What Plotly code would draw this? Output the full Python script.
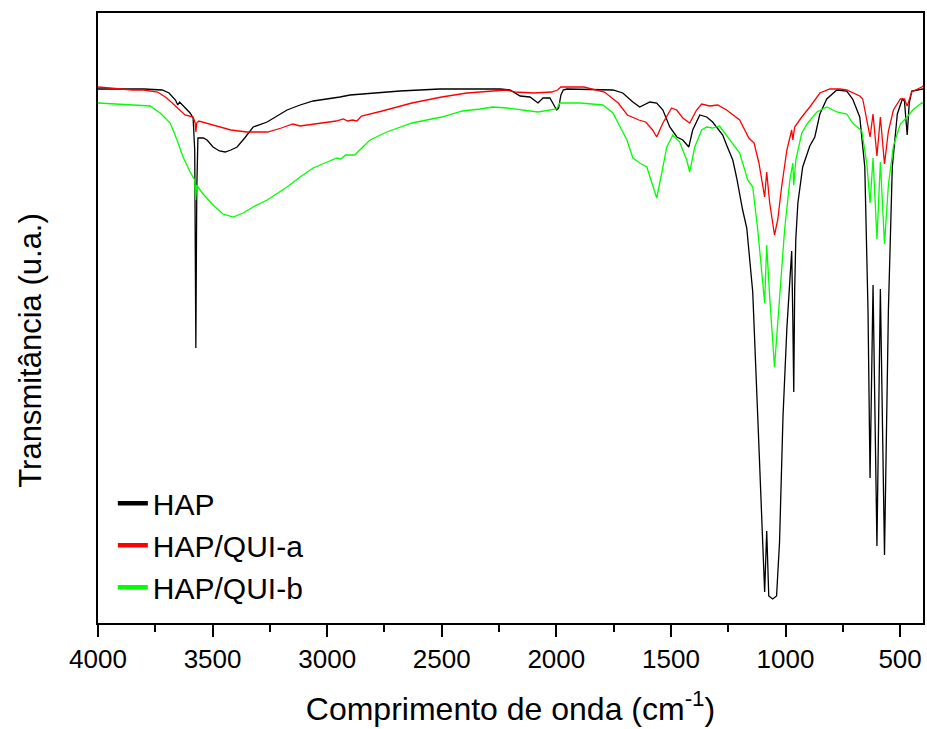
import plotly.graph_objects as go

# Wavenumbers (cm^-1) and transmittance (arbitrary units)
hap_wn = [4000, 3900, 3800, 3720, 3690, 3662, 3652, 3644, 3620, 3598, 3585, 3578, 3573, 3569, 3564,
          3540, 3524, 3498, 3470, 3445, 3420, 3393, 3360, 3323, 3262, 3175, 3118, 3061, 2944, 2900,
          2682, 2508, 2364, 2245, 2202, 2158, 2115, 2080, 2058, 2028, 2006, 1998, 1990, 1980, 1970,
          1954, 1753, 1710, 1666, 1636, 1592, 1562, 1535, 1505, 1474, 1448, 1422, 1405, 1374, 1344,
          1318, 1274, 1257, 1230, 1213, 1187, 1169, 1143, 1121, 1104, 1091, 1082, 1073, 1056, 1039,
          1026, 1011, 994, 981, 973, 968, 964, 960, 955, 946, 925, 894, 872, 850, 820, 776, 733, 707,
          676, 654, 640, 631, 618, 601, 586, 568, 551, 534, 512, 490, 481, 469, 460, 449, 400]
hap_t = [531, 531, 531, 530, 527, 520, 515, 518, 512, 507, 502, 470, 272, 430, 482,
         482, 480, 473, 469, 468, 470, 473, 482, 493, 498, 510, 515, 519, 523, 525,
         529, 531, 531, 531, 530, 524, 523, 517, 522, 522, 513, 510, 512, 525, 530,
         531, 530, 527, 518, 513, 518, 517, 510, 493, 483, 480, 473, 490, 505, 503,
         498, 485, 475, 460, 442, 410, 392, 328, 203, 96, 28, 89, 24, 21, 24,
         78, 203, 292, 346, 369, 300, 228, 330, 381, 417, 453, 474, 483, 506, 521, 530, 529, 521,
         503, 453, 310, 142, 335, 74, 331, 65, 310, 453, 506, 521, 519, 485, 517, 529, 531]

quia_wn = [4000, 3950, 3900, 3850, 3800, 3740, 3700, 3655, 3620, 3585, 3576, 3573, 3569, 3560, 3500,
           3420, 3350, 3260, 3200, 3150, 3118, 3061, 2960, 2930, 2910, 2890, 2870, 2850, 2760, 2630,
           2500, 2390, 2290, 2220, 2180, 2100, 2020, 1995, 1980, 1880, 1790, 1730, 1690, 1640, 1610,
           1580, 1562, 1535, 1497, 1475, 1448, 1418, 1388, 1366, 1331, 1296, 1257, 1200, 1160, 1137,
           1116, 1091, 1082, 1069, 1048, 1034, 1017, 994, 973, 968, 960, 929, 894, 850, 807, 763, 733,
           676, 663, 645, 631, 618, 601, 586, 568, 551, 529, 499, 481, 469, 449, 406, 400]
quia_t = [533, 532, 531, 530, 530, 528, 522, 512, 505, 503, 497, 488, 497, 499, 495,
          490, 488, 488, 492, 496, 494, 496, 499, 501, 499, 500, 499, 504, 509, 517,
          523, 527, 529, 530, 528, 527, 528, 530, 533, 533, 528, 517, 505, 500, 498,
          490, 483, 497, 512, 510, 502, 497, 510, 516, 514, 515, 510, 500, 482, 477,
          457, 423, 448, 417, 385, 400, 433, 470, 490, 480, 493, 503, 513, 527, 531, 531, 530,
          524, 521, 499, 483, 506, 464, 503, 456, 489, 510, 521, 521, 514, 528, 533, 534]

quib_wn = [4000, 3900, 3800, 3772, 3729, 3685, 3655, 3629, 3598, 3578, 3574, 3570, 3545, 3498, 3455,
           3410, 3367, 3323, 3262, 3175, 3118, 3061, 3000, 2957, 2940, 2920, 2880, 2850, 2813, 2740,
           2630, 2500, 2410, 2333, 2276, 2215, 2158, 2080, 2000, 1984, 1894, 1797, 1753, 1723, 1692,
           1666, 1636, 1605, 1583, 1562, 1540, 1518, 1492, 1462, 1431, 1418, 1396, 1366, 1344, 1318,
           1288, 1230, 1200, 1165, 1143, 1121, 1099, 1091, 1082, 1069, 1048, 1026, 1004, 981, 968,
           964, 955, 929, 903, 863, 820, 776, 733, 707, 667, 645, 631, 618, 601, 586, 568, 551, 529,
           499, 469, 445, 406, 400]
quib_t = [517, 516, 515, 514, 507, 497, 480, 463, 448, 440, 420, 435, 427, 415, 406,
          403, 407, 413, 420, 433, 443, 452, 458, 462, 461, 465, 465, 472, 480, 488,
          497, 503, 509, 511, 513, 512, 510, 508, 511, 517, 517, 515, 507, 493, 480,
          462, 457, 453, 437, 422, 447, 473, 485, 478, 460, 448, 473, 490, 493, 492,
          494, 477, 467, 440, 433, 390, 340, 317, 375, 323, 253, 323, 390, 440, 457,
          435, 460, 487, 497, 508, 513, 508, 506, 497, 489, 456, 417, 462, 381, 458, 376, 435, 474,
          496, 503, 510, 517, 517]

series_names = ["HAP", "HAP/QUI-a", "HAP/QUI-b"]
series_colors = ["#000000", "#FF0000", "#00FF00"]
series_x = [hap_wn, quia_wn, quib_wn]
series_y = [hap_t, quia_t, quib_t]

FONT = "Liberation Sans, Arial, sans-serif"

fig = go.Figure()
for name, color, xs, ys in zip(series_names, series_colors, series_x, series_y):
    fig.add_trace(go.Scatter(x=xs, y=ys, mode="lines", name=name, showlegend=False,
                             line=dict(color=color, width=1.3)))
for name, color in zip(series_names, series_colors):
    fig.add_trace(go.Scatter(x=[None], y=[None], mode="lines", name=name, showlegend=True,
                             line=dict(color=color, width=4.5)))

fig.update_layout(
    width=927, height=729,
    margin=dict(l=98, r=4, t=13, b=106, autoexpand=False),
    paper_bgcolor="white", plot_bgcolor="white",
    font=dict(family=FONT, color="black"),
    showlegend=True,
    legend=dict(x=0.018, y=0.016, xanchor="left", yanchor="bottom",
                bgcolor="rgba(0,0,0,0)", font=dict(size=30, family=FONT),
                tracegroupgap=0, itemwidth=30),
    annotations=[dict(text="Transmitância (u.a.)", textangle=-90, showarrow=False,
                      xref="paper", yref="paper", x=-0.082, y=0.447,
                      xanchor="center", yanchor="middle",
                      font=dict(size=31, family=FONT, color="black"))],
)
fig.update_xaxes(
    range=[4000, 400], showline=True, linewidth=2, linecolor="black", mirror=True,
    showgrid=False, zeroline=False,
    ticks="outside", ticklen=12, tickwidth=2, tickcolor="black",
    tick0=0, dtick=500, tickfont=dict(size=26, family=FONT),
    minor=dict(ticks="outside", ticklen=7, tickwidth=2, tickcolor="black", dtick=250, tick0=0),
    title=dict(text="Comprimento de onda (cm<sup>-1</sup>)", font=dict(size=32, family=FONT), standoff=24),
)
fig.update_yaxes(
    range=[-3, 607], showline=True, linewidth=2, linecolor="black", mirror=True,
    showgrid=False, zeroline=False, showticklabels=False, ticks="",
)

fig.write_html("out.html", config={"displayModeBar": False},
               post_script="document.body.style.margin='0';")
